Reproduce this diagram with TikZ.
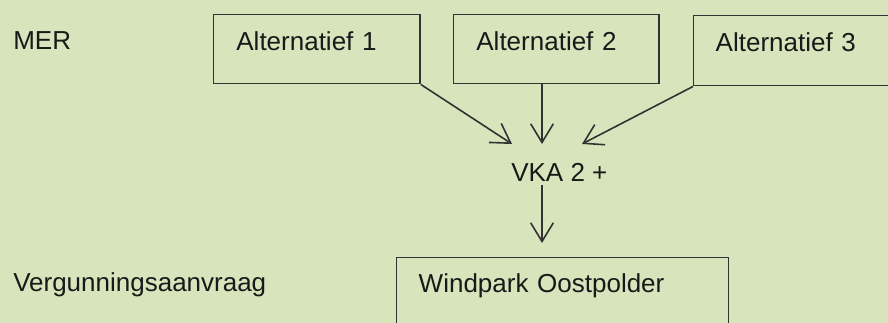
\documentclass[tikz,border=0pt]{standalone}
\usepackage{fontspec}
\setmainfont{Liberation Sans}
\usetikzlibrary{arrows.meta}
\definecolor{bgcol}{RGB}{216,228,188}
\definecolor{linecol}{RGB}{50,50,50}
\definecolor{textcol}{RGB}{25,25,25}

\begin{document}
\begin{tikzpicture}[x=0.75pt, y=-0.75pt,
  every node/.style={font=\fontsize{19.5pt}{23pt}\selectfont, text=textcol},
  box/.style={draw=linecol, line width=1.1pt, anchor=north west, align=left,
    inner xsep=17pt, inner ysep=0pt, text height=27pt, text depth=24.75pt},
  lbl/.style={anchor=base west, inner sep=0pt},
  arr/.style={-{Straight Barb[length=14pt, width=17pt]}, draw=linecol, line width=1.2pt}]
  \fill[bgcol] (0,0) rectangle (888,323);
  \useasboundingbox (0,0) rectangle (888,323);
  \clip (0,0) rectangle (888,323);
  % row labels
  \node[lbl] (mer) at (13,50) {MER};
  \node[lbl] (verg) at (13,292) {Vergunningsaanvraag};
  % alternatives
  \node[box, text width=120.75pt] (alt1) at (213,14) {Alternatief 1};
  \node[box, text width=120pt] (alt2) at (453,14) {Alternatief 2};
  \node[box, text width=140pt, inner xsep=16.5pt, text depth=25.5pt] (alt3) at (693,15) {Alternatief 3};
  % result
  \node[lbl] (vka) at (511,182) {VKA 2 +};
  \coordinate (tip1) at (512,144);
  \coordinate (tip2) at (542,144);
  \coordinate (tip3) at (582,144);
  \node[box, text width=216pt, inner xsep=16.5pt, text height=26.25pt, text depth=60pt] (windpark) at (396,257) {Windpark Oostpolder};
  % arrows
  \draw[arr] (alt1.south east) -- (tip1);
  \draw[arr] (alt2.south -| tip2) -- (tip2);
  \draw[arr] (alt3.south west) -- (tip3);
  \draw[arr, shorten <=2.25pt, shorten >=10.5pt] (tip2 |- vka.south) -- (tip2 |- windpark.north);
\end{tikzpicture}
\end{document}
